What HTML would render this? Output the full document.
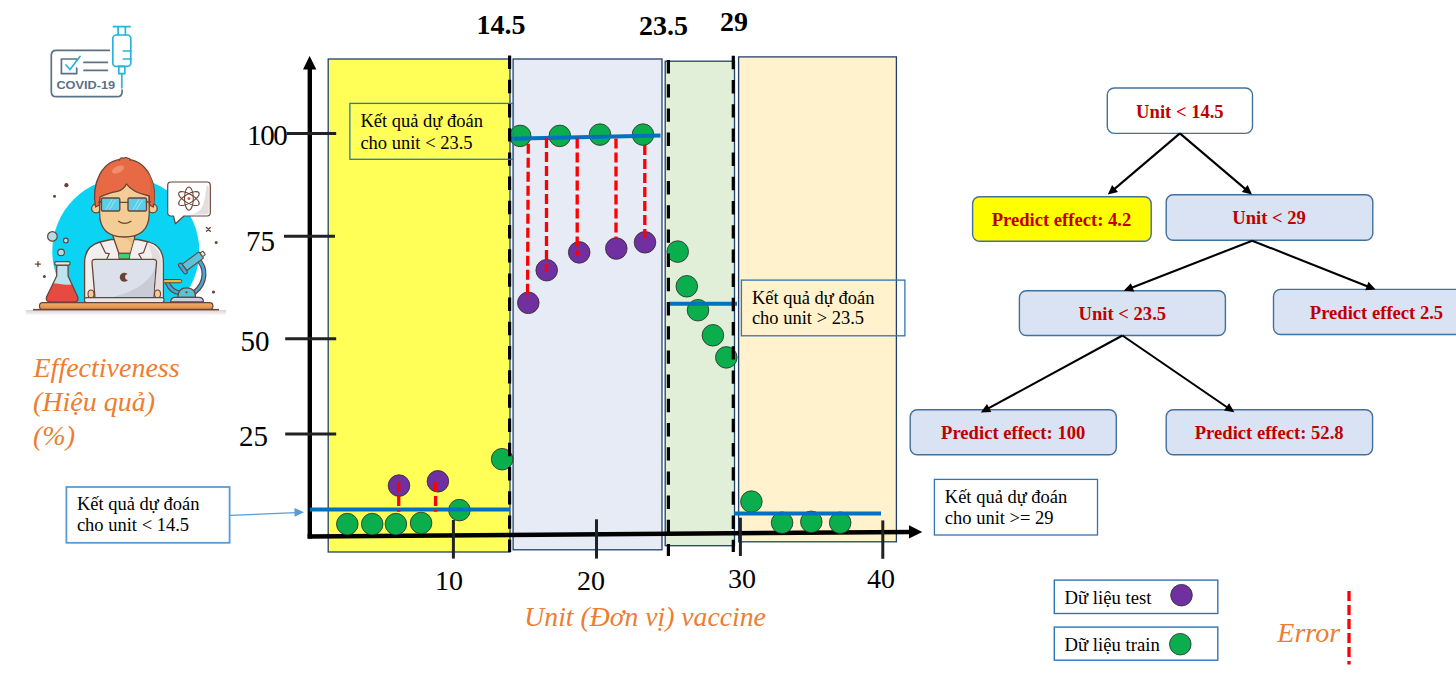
<!DOCTYPE html>
<html><head><meta charset="utf-8">
<style>
html,body{margin:0;padding:0;background:#fff;width:1456px;height:674px;overflow:hidden}
svg{display:block}
.serif{font-family:"Liberation Serif",serif}
.sans{font-family:"Liberation Sans",sans-serif}
</style></head><body>
<svg width="1456" height="674" viewBox="0 0 1456 674">
<!-- ILLUSTRATION -->
<g id="illus" stroke-linejoin="round" stroke-linecap="round">
  <!-- covid card -->
  <g fill="none" stroke="#5A7186" stroke-width="1.7">
    <path d="M109.4 50.4 L56.3 50.4 Q51.3 50.4 51.3 55.4 L51.3 91.7 Q51.3 96.7 56.3 96.7 L117.1 96.7 Q122.1 96.7 122.1 91.7 L122.1 90"/>
    <path d="M76.7 60.5 L76.7 59 L61.4 59 L61.4 73.7 L76.7 73.7 L76.7 68"/>
    <path d="M84 62.4 H107.4 M84 70.4 H107.4"/>
  </g>
  <path d="M66 65 L70 69.5 L80 56.4" fill="none" stroke="#28B4DA" stroke-width="1.7"/>
  <text x="56.4" y="89.1" font-family="Liberation Sans" font-weight="bold" font-size="11.6" fill="#5A7186" textLength="58.8" lengthAdjust="spacingAndGlyphs">COVID-19</text>
  <g fill="none" stroke="#28B4DA" stroke-width="1.7">
    <path d="M113.4 26.7 H130.1 M118.1 26.7 V35 M125.4 26.7 V35"/>
    <rect x="112.8" y="35" width="18" height="31.4" rx="3.5"/>
    <path d="M123.3 51 H130.8 M123.3 59 H130.8"/>
    <rect x="118.8" y="66.4" width="6" height="7.3"/>
    <path d="M121.8 73.7 V87.8"/>
  </g>

  <!-- scientist -->
  <clipPath id="cclip"><rect x="0" y="0" width="300" height="303"/></clipPath>
  <circle cx="125.8" cy="251.2" r="73.5" fill="#0AD3F4" clip-path="url(#cclip)"/>
  <linearGradient id="shd" x1="0" y1="0" x2="0" y2="1"><stop offset="0" stop-color="#D9D1D1"/><stop offset="1" stop-color="#D9D1D1" stop-opacity="0"/></linearGradient>
  <rect x="26" y="310" width="200" height="5.5" fill="url(#shd)" stroke="none"/>
  <rect x="33" y="308.9" width="186" height="1.5" fill="#6A4336" stroke="none"/>
  <g fill="#6A4336" stroke="none">
    <circle cx="66.4" cy="185.2" r="2.1"/>
    <circle cx="54.5" cy="196.3" r="1.5"/>
    <circle cx="44.4" cy="276.4" r="1.5"/>
    <circle cx="216.2" cy="242.4" r="1.5"/>
    <circle cx="213.5" cy="292" r="1.6"/>
  </g>
  <g stroke="#6A4336" stroke-width="1.3" fill="none">
    <path d="M38 261.6 V266.6 M35.5 264.1 H40.5"/>
    <path d="M206.5 227.5 L210.3 231.3 M210.3 227.5 L206.5 231.3"/>
  </g>
  <!-- bubbles -->
  <g fill="#AEDFEA" stroke="#6A4336" stroke-width="1.2">
    <circle cx="52.4" cy="236.4" r="4.8"/>
    <circle cx="65.8" cy="240.6" r="2.4"/>
    <circle cx="61.1" cy="252.4" r="3.3"/>
  </g>
  <!-- flask -->
  <clipPath id="fclip"><path d="M56.7 265 L56.7 276 L46.5 297 Q45.5 301.8 50 301.8 L74.5 301.8 Q79 301.8 77.8 297 L68.1 276 L68.1 265 Z"/></clipPath>
  <path d="M56.7 265 L56.7 276 L46.5 297 Q45.5 301.8 50 301.8 L74.5 301.8 Q79 301.8 77.8 297 L68.1 276 L68.1 265 Z" fill="#BDE4EE"/>
  <path d="M40 285 Q50 282 60 284 Q68 286 80 283 L80 305 L40 305 Z" fill="#E64A40" clip-path="url(#fclip)"/>
  <path d="M56.7 265 L56.7 276 L46.5 297 Q45.5 301.8 50 301.8 L74.5 301.8 Q79 301.8 77.8 297 L68.1 276 L68.1 265 Z" fill="none" stroke="#6A4336" stroke-width="1.3"/>
  <rect x="54.7" y="261.7" width="15.4" height="3.4" rx="1.6" fill="#D7EEF4" stroke="#6A4336" stroke-width="1.2"/>

  <!-- coat -->
  <path d="M84.6 300 L84.6 262 Q85 246 100 242 L111 239.5 L138 239.5 L149 242 Q163 246 163.4 262 L163.4 300 Z" fill="#F2F0EF" stroke="#6A4336" stroke-width="1.3"/>
  <path d="M148 243 Q160 248 161.5 262 L161.5 299 L152 299 L152 255 Z" fill="#E3DEDD"/>
  <!-- neck -->
  <path d="M112.9 232 L112.9 236 L118.8 253.3 L130.1 253.3 L134.9 236 L134.9 232 Z" fill="#F4CD96" stroke="#6A4336" stroke-width="1.3"/>
  <path d="M124 238 Q131 240 131 247 Q130 251 127 252.5 L130 252.5 L134 238 Z" fill="#E9BF86"/>
  <path d="M118.8 253.3 L130.1 253.3 L129.3 259 L119.6 259 Z" fill="#3AD07A" stroke="#6A4336" stroke-width="1"/>
  <path d="M100.1 241.9 L105.5 253.1 L109.3 253.7 L107 258.5 M147.3 242.2 L143.5 252.6 L138.7 254 L141.4 258.5" fill="none" stroke="#6A4336" stroke-width="1.2"/>
  <!-- ears -->
  <g fill="#F4CD96" stroke="#6A4336" stroke-width="1.3">
    <circle cx="96" cy="208.5" r="4.4"/>
    <circle cx="152.8" cy="208.5" r="4.4"/>
  </g>
  <!-- face -->
  <path d="M99.6 180 L99.6 214 Q100 237 124.4 237 Q148.8 237 149.2 214 L149.2 180 Z" fill="#F4CD96" stroke="#6A4336" stroke-width="1.3"/>
  <!-- hair -->
  <path d="M95.5 207 C91.5 184, 101 159.5, 124.4 159.2 C148 159.5, 158 184, 153.3 207 L149.5 205 L149.3 196 C140 194, 131 191, 126.5 184 C124.5 188, 121.5 190.5, 117.5 191.3 C111 192.5, 105.5 194, 100 197 L99.5 205 Z" fill="#E76A44" stroke="#6A4336" stroke-width="1.3"/>
  <clipPath id="hclip"><path d="M95.5 207 C91.5 184, 101 159.5, 124.4 159.2 C148 159.5, 158 184, 153.3 207 L149.5 205 L149.3 196 C140 194, 131 191, 126.5 184 C124.5 188, 121.5 190.5, 117.5 191.3 C111 192.5, 105.5 194, 100 197 L99.5 205 Z"/></clipPath>
  <path d="M137 158 C150 168, 152 185, 150 200 L160 210 L160 150 Z" fill="#D9633F" clip-path="url(#hclip)"/>
  <ellipse cx="118" cy="169.5" rx="6.5" ry="3.3" transform="rotate(-25 118 169.5)" fill="#EF8E6C"/>
  <path d="M119.5 160 Q120.5 157 123.5 158.2 Q125.5 156.8 128 158.2 Q130 158 130.5 160.2" fill="#E76A44" stroke="#6A4336" stroke-width="1.1"/>
  <!-- glasses -->
  <g fill="#5BCFE8" stroke="#6A4336" stroke-width="1.4">
    <rect x="101.4" y="198" width="18.4" height="13" rx="1.5"/>
    <rect x="128" y="198" width="18.5" height="13" rx="1.5"/>
  </g>
  <path d="M119.8 202.3 L128 202.3 M101.4 202 L98.5 202 M146.5 202 L150.3 202" stroke="#6A4336" stroke-width="1.3" fill="none"/>
  <path d="M106 209.5 L112 199.5 M109.5 209.5 L115 200.5 M133 209.5 L139 199.5 M136.5 209.5 L142 200.5" stroke="#9EE6F4" stroke-width="1" fill="none"/>
  <path d="M118.5 221.3 Q124.5 225.5 131 221.3" fill="none" stroke="#6A4336" stroke-width="1.2"/>
  <!-- hands -->
  <g fill="#F4CD96" stroke="#6A4336" stroke-width="1.1">
    <ellipse cx="91" cy="294" rx="3" ry="4"/>
    <ellipse cx="157.5" cy="294" rx="3" ry="4"/>
  </g>
  <!-- laptop -->
  <path d="M92 262.5 Q91.8 259.3 95 259.3 L153.5 259.3 Q156.8 259.3 156.5 262.5 L153.3 300.5 L95.2 300.5 Z" fill="#DCE0EA" stroke="#6A4336" stroke-width="1.3"/>
  <path d="M155 268 Q146 292 100 299.5 L153.3 299.8 Z" fill="#C9CCD6"/>
  <circle cx="124.3" cy="277.2" r="4.5" fill="#6A4336"/><circle cx="128.1" cy="277.1" r="3" fill="#DCE0EA"/>
  <rect x="84.5" y="297.6" width="79.5" height="5" rx="2" fill="#E6E8EE" stroke="#6A4336" stroke-width="1.1"/>

  <!-- speech bubble -->
  <path d="M171 182 L207 182 Q210.3 182 210.3 185.5 L210.3 212.5 Q210.3 216 207 216 L184 216 L175.4 223.7 L173.5 216 L171 216 Q167.7 216 167.7 212.5 L167.7 185.5 Q167.7 182 171 182 Z" fill="#FFFFFF" stroke="#6A4336" stroke-width="1.2"/>
  <path d="M206.8 185 Q208.8 185.5 208.8 188 L208.8 211 Q208.8 214.5 205 214.5 L191 214.5 Q203 212 204.5 200 Z" fill="#E2DEDD"/>
  <g fill="none" stroke="#6A4336" stroke-width="1.05">
    <ellipse cx="188.9" cy="198.6" rx="11.6" ry="4.4" transform="rotate(90 188.9 198.6)"/>
    <ellipse cx="188.9" cy="198.6" rx="11.6" ry="4.4" transform="rotate(30 188.9 198.6)"/>
    <ellipse cx="188.9" cy="198.6" rx="11.6" ry="4.4" transform="rotate(-30 188.9 198.6)"/>
  </g>
  <circle cx="188.9" cy="198.6" r="1.5" fill="#F04A3A"/>

  <!-- microscope -->
  <g fill="none" stroke-linecap="round">
    <path d="M195 292 C206 283, 207 268, 197.5 259" stroke="#6A4336" stroke-width="5"/>
    <path d="M195 292 C206 283, 207 268, 197.5 259" stroke="#3DA8E6" stroke-width="2.6"/>
    <path d="M167.5 283 C170 289, 175 292.5, 180.5 293" stroke="#6A4336" stroke-width="5"/>
    <path d="M167.5 283 C170 289, 175 292.5, 180.5 293" stroke="#3DA8E6" stroke-width="2.6"/>
  </g>
  <rect x="163.3" y="279.5" width="18.4" height="3.3" rx="1.5" fill="#EAB83C" stroke="#6A4336" stroke-width="1"/>
  <path d="M177.8 297.3 Q178 287.9 186.7 287.9 Q195.6 287.9 195.6 297.3 Z" fill="#5BC3D8" stroke="#6A4336" stroke-width="1.2"/>
  <circle cx="186.5" cy="292.3" r="1.1" fill="#6A4336"/>
  <path d="M170.6 301.8 Q171 297.3 175 297.3 L199 297.3 Q203.4 297.3 203.4 301.8 Z" fill="#C8D1DF" stroke="#6A4336" stroke-width="1.2"/>
  <g transform="translate(182.8 268.6) rotate(-36.5)" stroke="#6A4336" stroke-width="1.1">
    <rect x="2" y="-3.9" width="21" height="7.8" rx="1" fill="#5CC4DA"/>
    <rect x="23" y="-2.2" width="3.6" height="4.4" rx="1" fill="#D9EEF3"/>
    <rect x="-1.8" y="-6.2" width="3.8" height="12.4" rx="1.8" fill="#3DA8E6"/>
  </g>

  <!-- desk -->
  <linearGradient id="desk" x1="0" y1="0" x2="0" y2="1"><stop offset="0" stop-color="#F2AE6C"/><stop offset="1" stop-color="#DE8C45"/></linearGradient>
  <rect x="39.5" y="302.6" width="173.4" height="6.8" rx="3.2" fill="url(#desk)" stroke="#6A4336" stroke-width="1.2"/>
</g>


<!-- CHART: region rects -->
<g stroke="#22416A" stroke-width="1.3">
  <rect x="328.2" y="59" width="181.8" height="493" fill="#FFFF57"/>
  <rect x="513.1" y="59" width="148.9" height="490.8" fill="#E7EBF6"/>
  <rect x="665.2" y="61.2" width="69.3" height="484.5" fill="#E1EFD9"/>
  <rect x="738.6" y="56.9" width="157.8" height="484.9" fill="#FFF2CC"/>
</g>

<!-- axes -->
<g fill="#000">
  <line x1="309.8" y1="68" x2="309.8" y2="538.5" stroke="#000" stroke-width="4.4"/>
  <polygon points="309.6,55.9 303,69.5 316.4,69.5"/>
  <line x1="307.6" y1="536.4" x2="911" y2="531.9" stroke="#000" stroke-width="4.5"/>
  <polygon points="922.3,531.9 909,525.2 909,538.6"/>
</g>
<g stroke="#222" stroke-width="3">
  <line x1="286.8" y1="133.4" x2="336.2" y2="133.4"/>
  <line x1="284" y1="236.3" x2="335" y2="236.3"/>
  <line x1="285.2" y1="338.8" x2="336.2" y2="338.8"/>
  <line x1="285.2" y1="434" x2="336.2" y2="434"/>
  <line x1="453.4" y1="520" x2="453.4" y2="558.6"/>
  <line x1="596.5" y1="519.3" x2="596.5" y2="558.6"/>
  <line x1="740.4" y1="517.7" x2="740.4" y2="556"/>
  <line x1="882.8" y1="520.4" x2="882.8" y2="558.8"/>
</g>
<g class="serif" font-size="29" fill="#000">
  <text x="247.1" y="144.5" letter-spacing="-1.4">100</text>
  <text x="246" y="250.8">75</text>
  <text x="240.5" y="350.5">50</text>
  <text x="239" y="446.3">25</text>
</g>
<g class="serif" font-size="28" fill="#000">
  <text x="435" y="590.2">10</text>
  <text x="577" y="590.2">20</text>
  <text x="728" y="588.2">30</text>
  <text x="867" y="588.2">40</text>
</g>
<g class="serif" font-size="28" font-weight="bold" fill="#000">
  <text x="476.5" y="33.8">14.5</text>
  <text x="639" y="35.3">23.5</text>
  <text x="720" y="31.2">29</text>
</g>

<!-- green circles -->
<g fill="#0BAE4C" stroke="#2b2b2b" stroke-width="0.8">
  <circle cx="347.3" cy="524.1" r="10.8"/>
  <circle cx="372.2" cy="524.1" r="10.8"/>
  <circle cx="395.9" cy="524.1" r="10.8"/>
  <circle cx="421.1" cy="523" r="10.8"/>
  <circle cx="459.4" cy="510.1" r="10.8"/>
  <circle cx="502.1" cy="459.2" r="10.8"/>
  <circle cx="520.2" cy="135.9" r="10.8"/>
  <circle cx="559.8" cy="135.9" r="10.8"/>
  <circle cx="600" cy="134.6" r="10.8"/>
  <circle cx="643" cy="134.6" r="10.8"/>
  <circle cx="677.7" cy="251.6" r="10.8"/>
  <circle cx="686.8" cy="286.3" r="10.8"/>
  <circle cx="698" cy="310.2" r="10.8"/>
  <circle cx="712.9" cy="335.3" r="10.8"/>
  <circle cx="726.3" cy="357.4" r="10.8"/>
  <circle cx="751.4" cy="501.6" r="10.8"/>
  <circle cx="782.1" cy="522.7" r="10.8"/>
  <circle cx="811.3" cy="521.8" r="10.8"/>
  <circle cx="840.2" cy="522.7" r="10.8"/>
</g>
<g fill="#7030A0" stroke="#2b2b2b" stroke-width="0.8">
  <circle cx="399" cy="485.6" r="10.8"/>
  <circle cx="437.9" cy="481.3" r="10.8"/>
  <circle cx="528.3" cy="302.8" r="10.8"/>
  <circle cx="546.7" cy="270.2" r="10.8"/>
  <circle cx="579.2" cy="252.4" r="10.8"/>
  <circle cx="616.3" cy="248.5" r="10.8"/>
  <circle cx="645" cy="242.3" r="10.8"/>
</g>
<!-- blue prediction lines -->
<g stroke="#0070C0" stroke-width="4">
  <line x1="310" y1="509.6" x2="510" y2="509.6"/>
  <line x1="509.2" y1="138.7" x2="660.5" y2="135.5"/>
  <line x1="668.8" y1="303.8" x2="737" y2="303.8"/>
  <line x1="734" y1="513.5" x2="881" y2="513.5"/>
</g>
<!-- red error dashes -->
<g stroke="#FF0000" stroke-width="3.3" stroke-dasharray="10 4">
  <line x1="398.7" y1="482" x2="398.7" y2="511.7"/>
  <line x1="435.6" y1="482" x2="435.6" y2="511.7"/>
  <line x1="528.3" y1="143.8" x2="527.5" y2="298.7"/>
  <line x1="546.5" y1="137.9" x2="546.5" y2="272"/>
  <line x1="577.2" y1="138.5" x2="577.2" y2="255.6"/>
  <line x1="616" y1="138.5" x2="616" y2="238.6"/>
  <line x1="644.8" y1="145" x2="644.8" y2="237.8"/>
</g>
<!-- black dashed split lines -->
<g stroke="#000" stroke-width="3.2" stroke-dasharray="13.4 10.8">
  <line x1="509.6" y1="55.6" x2="509.6" y2="552"/>
  <line x1="668.4" y1="60" x2="668.4" y2="556"/>
  <line x1="733.3" y1="55.8" x2="733.3" y2="552"/>
</g>

<!-- callouts -->
<g fill="none" stroke="#2E75B6" stroke-width="1.3">
  <rect x="349.9" y="103.4" width="163.5" height="55.9"/>
  <rect x="741.4" y="280.1" width="163.5" height="55.7"/>
  <rect x="934.4" y="479.4" width="163.1" height="55.6"/>
</g>
<rect x="66.4" y="487" width="163.2" height="55.8" fill="none" stroke="#5B9BD5" stroke-width="1.8"/>
<line x1="229.6" y1="515.4" x2="296" y2="512.6" stroke="#5B9BD5" stroke-width="1.2"/>
<polygon points="304,512.3 294.5,508 294.5,516.8" fill="#5B9BD5"/>
<g class="serif" font-size="18.5" fill="#000">
  <text x="360.4" y="127.1">Kết quả dự đoán</text>
  <text x="360.4" y="148.8">cho unit &lt; 23.5</text>
  <text x="751.9" y="303.6">Kết quả dự đoán</text>
  <text x="751.9" y="324.4">cho unit &gt; 23.5</text>
  <text x="76.9" y="510.3">Kết quả dự đoán</text>
  <text x="76.9" y="531.3">cho unit &lt; 14.5</text>
  <text x="944.8" y="502.6">Kết quả dự đoán</text>
  <text x="944.8" y="523.5">cho unit &gt;= 29</text>
</g>

<!-- axis titles -->
<g class="serif" font-size="28" font-style="italic" fill="#ED7D31">
  <text x="33.5" y="377.1">Effectiveness</text>
  <text x="33" y="410.7">(Hiệu quả)</text>
  <text x="33" y="444.8">(%)</text>
  <text x="524.3" y="625.7" font-size="27.7">Unit (Đơn vị) vaccine</text>
  <text x="1277.3" y="642.1">Error</text>
</g>

<!-- TREE -->
<g stroke="#41719C" stroke-width="1.4">
  <rect x="1107.3" y="88" width="145.2" height="45.4" rx="7" fill="#fff"/>
  <rect x="972.6" y="196.7" width="178.6" height="44.6" rx="7" fill="#FFFF00"/>
  <rect x="1166.2" y="194.8" width="206.6" height="45.4" rx="7" fill="#DAE3F3"/>
  <rect x="1019.4" y="290.7" width="206" height="44.8" rx="7" fill="#DAE3F3"/>
  <rect x="1273.5" y="289.4" width="220" height="45.1" rx="7" fill="#DAE3F3"/>
  <rect x="910.2" y="409.8" width="206.1" height="44.9" rx="7" fill="#DAE3F3"/>
  <rect x="1166.2" y="409.8" width="206.4" height="44.9" rx="7" fill="#DAE3F3"/>
</g>
<defs>
  <marker id="ah" viewBox="0 0 10 10" refX="10" refY="5" markerWidth="5" markerHeight="5" orient="auto" markerUnits="strokeWidth">
    <path d="M0,0 L10,5 L0,10 z" fill="#000"/>
  </marker>
</defs>
<g stroke="#000" stroke-width="2.1">
  <line x1="1179.9" y1="133.4" x2="1114.3" y2="189.1"/>
  <line x1="1179.9" y1="133.4" x2="1245.5" y2="189.1"/>
  <line x1="1252.2" y1="240.7" x2="1131.6" y2="287.7"/>
  <line x1="1252.2" y1="240.7" x2="1367.8" y2="286.4"/>
  <line x1="1122.4" y1="335.5" x2="988.3" y2="408.4"/>
  <line x1="1122.4" y1="335.5" x2="1227.4" y2="407.5"/>
</g>
<g fill="#000">
  <polygon points="1107.8,194.6 1112.1,185.0 1118.0,191.9"/>
  <polygon points="1252.0,194.6 1241.8,191.9 1247.7,185.0"/>
  <polygon points="1123.7,290.8 1130.9,283.2 1134.2,291.5"/>
  <polygon points="1375.7,289.5 1365.2,290.2 1368.5,281.8"/>
  <polygon points="980.8,412.5 987.0,404.0 991.3,411.9"/>
  <polygon points="1234.4,412.3 1224.0,410.6 1229.1,403.2"/>
</g>
<g class="serif" font-size="18.6" font-weight="bold" fill="#C00000" text-anchor="middle">
  <text x="1179.9" y="117.9">Unit &lt; 14.5</text>
  <text x="1061.5" y="225.9">Predict effect: 4.2</text>
  <text x="1269.1" y="223.7">Unit &lt; 29</text>
  <text x="1122.3" y="319.9">Unit &lt; 23.5</text>
  <text x="1376.5" y="319">Predict effect 2.5</text>
  <text x="1013.2" y="439.2">Predict effect: 100</text>
  <text x="1269.2" y="439.2">Predict effect: 52.8</text>
</g>

<!-- legend -->
<g fill="none" stroke="#2E75B6" stroke-width="1.4">
  <rect x="1054.3" y="580.1" width="163.5" height="33.4"/>
  <rect x="1054.3" y="627.1" width="163.5" height="33.1"/>
</g>
<g class="serif" font-size="18.7" fill="#000">
  <text x="1064.5" y="604.1">Dữ liệu test</text>
  <text x="1064.5" y="650.8">Dữ liệu train</text>
</g>
<circle cx="1181.5" cy="595.2" r="10.8" fill="#7030A0" stroke="#2b2b2b" stroke-width="0.8"/>
<circle cx="1180.3" cy="644.2" r="10.8" fill="#0BAE4C" stroke="#2b2b2b" stroke-width="0.8"/>
<line x1="1349" y1="590.9" x2="1349" y2="664.4" stroke="#FF0000" stroke-width="3.3" stroke-dasharray="10 4"/>

</svg>
</body></html>
